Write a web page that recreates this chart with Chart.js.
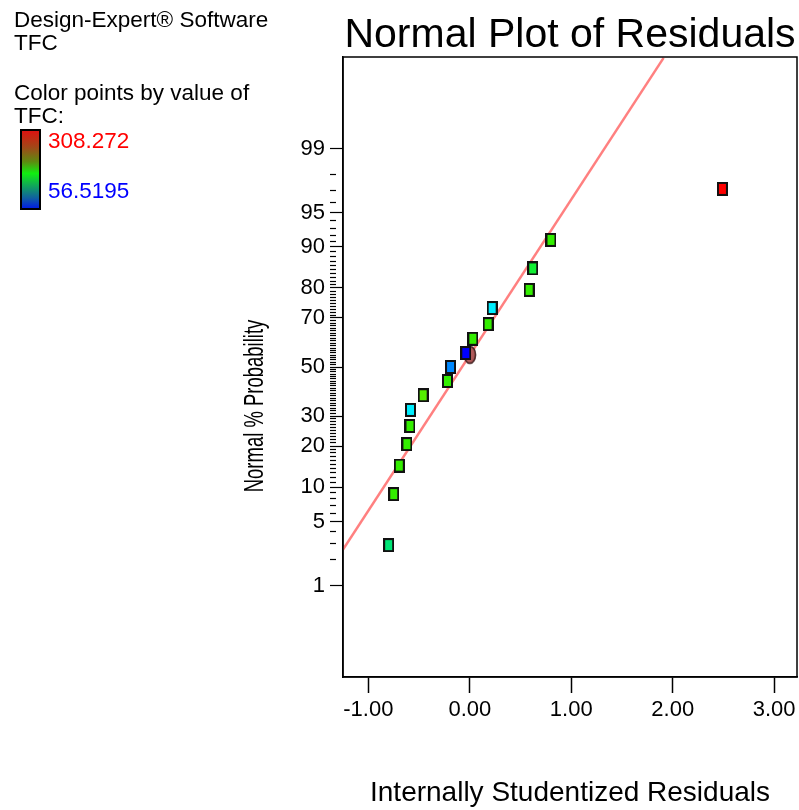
<!DOCTYPE html>
<html><head><meta charset="utf-8">
<script src="https://cdn.jsdelivr.net/npm/chart.js@4"></script>
<style>html,body{margin:0;padding:0;background:#fff;overflow:hidden}canvas{display:block}</style>
</head><body>
<canvas id="c" width="799" height="810" style="width:799px;height:810px"></canvas>
<script>
// ---- data ----
const residuals = [-0.80, -0.75, -0.695, -0.62, -0.59, -0.585, -0.46, -0.22, -0.19, -0.04, 0.03, 0.18, 0.22, 0.585, 0.62, 0.80, 2.49];
const normalPct = [2.9, 8.8, 14.7, 20.6, 26.5, 32.4, 38.2, 44.1, 50.0, 55.9, 61.8, 67.6, 73.5, 79.4, 85.3, 91.2, 97.1];
const pointColors = ['#00e676', '#33ee00', '#33ee00', '#33ee00', '#33ee00', '#00eeff', '#55ee00', '#33ee00', '#0088ff', '#0000ff', '#33ee00', '#33ee00', '#00eeff', '#33ee00', '#11ee33', '#33ee00', '#ff0000'];
const fitLineX = [-1.25, 1.91];
const fitLinePct = [2.6, 99.95];
const highlightX = [0.0];
const highlightPct = [55.2];
const xTickValues = [-1, 0, 1, 2, 3];
const yMajorPct = [1, 5, 10, 20, 30, 50, 70, 80, 90, 95, 99];
const yTickPct = []; for (let p = 1; p <= 99; p++) yTickPct.push(p);
const colorScaleMax = '308.272';
const colorScaleMin = '56.5195';
const FONT = '"Liberation Sans", Arial, sans-serif';

// inverse normal CDF (probability scale transform)
function probit(p) {
  const a=[-3.969683028665376e+01,2.209460984245205e+02,-2.759285104469687e+02,1.383577518672690e+02,-3.066479806614716e+01,2.506628277459239e+00];
  const b=[-5.447609879822406e+01,1.615858368580409e+02,-1.556989798598866e+02,6.680131188771972e+01,-1.328068155288572e+01];
  const c=[-7.784894002430293e-03,-3.223964580411365e-01,-2.400758277161838e+00,-2.549732539343734e+00,4.374664141464968e+00,2.938163982698783e+00];
  const d=[7.784695709041462e-03,3.224671290700398e-01,2.445134137142996e+00,3.754408661907416e+00];
  const plow = 0.02425, phigh = 1 - plow; let q, r;
  if (p < plow) { q = Math.sqrt(-2*Math.log(p)); return (((((c[0]*q+c[1])*q+c[2])*q+c[3])*q+c[4])*q+c[5])/((((d[0]*q+d[1])*q+d[2])*q+d[3])*q+1); }
  if (p > phigh) { q = Math.sqrt(-2*Math.log(1-p)); return -(((((c[0]*q+c[1])*q+c[2])*q+c[3])*q+c[4])*q+c[5])/((((d[0]*q+d[1])*q+d[2])*q+d[3])*q+1); }
  q = p - 0.5; r = q*q;
  return (((((a[0]*r+a[1])*r+a[2])*r+a[3])*r+a[4])*r+a[5])*q/(((((b[0]*r+b[1])*r+b[2])*r+b[3])*r+b[4])*r+1);
}

function rectMarker(color) {
  const cv = document.createElement('canvas'); cv.width = 11; cv.height = 14;
  const g = cv.getContext('2d');
  g.fillStyle = '#111'; g.fillRect(0, 0, 11, 14);
  g.fillStyle = color; g.fillRect(2, 2, 7, 10);
  return cv;
}
function ellipseMarker() {
  const cv = document.createElement('canvas'); cv.width = 14; cv.height = 20;
  const g = cv.getContext('2d');
  g.beginPath(); g.ellipse(7, 10, 5.6, 8.6, 0, 0, Math.PI*2);
  g.fillStyle = '#b05a5a'; g.fill();
  g.lineWidth = 1.5; g.strokeStyle = '#3a1818'; g.stroke();
  return cv;
}

const points = residuals.map((x, i) => ({x: x, y: probit(normalPct[i] / 100)}));
const highlight = highlightX.map((x, i) => ({x: x, y: probit(highlightPct[i] / 100)}));
const fitLine = fitLineX.map((x, i) => ({x: x, y: probit(fitLinePct[i] / 100)}));

const decor = {
  id: 'decor',
  afterDraw(chart) {
    const ctx = chart.ctx, ca = chart.chartArea;
    ctx.save();
    // frame
    ctx.strokeStyle = '#000'; ctx.lineWidth = 1.5;
    ctx.strokeRect(ca.left, ca.top, ca.right - ca.left, ca.bottom - ca.top);
    // title
    ctx.fillStyle = '#000'; ctx.textAlign = 'center'; ctx.textBaseline = 'alphabetic';
    ctx.font = '41px ' + FONT;
    ctx.fillText('Normal Plot of Residuals', (ca.left + ca.right) / 2, 47);
    // left info
    ctx.textAlign = 'left';
    ctx.font = '22.5px ' + FONT;
    ctx.fillText('Design-Expert\u00AE Software', 14, 27);
    ctx.fillText('TFC', 14, 50);
    ctx.fillText('Color points by value of', 14, 100);
    ctx.fillText('TFC:', 14, 123);
    // colour bar
    const gr = ctx.createLinearGradient(0, 130, 0, 209);
    gr.addColorStop(0, '#e01010');
    gr.addColorStop(0.22, '#a04818');
    gr.addColorStop(0.4, '#5e8a10');
    gr.addColorStop(0.55, '#10ee10');
    gr.addColorStop(0.72, '#10a060');
    gr.addColorStop(0.86, '#1060a0');
    gr.addColorStop(1, '#0018e8');
    ctx.fillStyle = gr; ctx.fillRect(21, 130, 19, 79);
    ctx.strokeStyle = '#000'; ctx.lineWidth = 2; ctx.strokeRect(21, 130, 19, 79);
    ctx.fillStyle = '#ff0000'; ctx.fillText(colorScaleMax, 48, 148);
    ctx.fillStyle = '#0000ff'; ctx.fillText(colorScaleMin, 48, 198);
    // y title (condensed)
    ctx.fillStyle = '#000';
    ctx.translate(263, 406); ctx.rotate(-Math.PI / 2); ctx.scale(0.66, 1);
    ctx.textAlign = 'center'; ctx.font = '28px ' + FONT;
    ctx.fillText('Normal % Probability', 0, 0);
    ctx.restore();
  }
};

new Chart(document.getElementById('c'), {
  type: 'scatter',
  data: {
    datasets: [
      {label: 'Residuals', data: points, pointStyle: pointColors.map(rectMarker), pointRadius: 6, pointHoverRadius: 6},
      {label: 'Highlight', data: highlight, pointStyle: ellipseMarker(), pointRadius: 6},
      {label: 'Fit', data: fitLine, showLine: true, borderColor: '#ff8080', borderWidth: 2.5, pointRadius: 0, clip: 0}
    ]
  },
  options: {
    responsive: false, animation: false, devicePixelRatio: 1,
    layout: {autoPadding: false, padding: {top: 57, right: 2, left: 0, bottom: 0}},
    plugins: {legend: {display: false}, tooltip: {enabled: false}},
    scales: {
      x: {
        type: 'linear', position: 'bottom', min: -1.25, max: 3.225,
        afterBuildTicks: s => { s.ticks = xTickValues.map(v => ({value: v})); },
        afterFit: s => { s.height = 133; s.paddingLeft = 0; s.paddingRight = 0; },
        grid: {drawOnChartArea: false, tickLength: 16, tickColor: '#000', tickWidth: 1.5},
        border: {display: true, color: '#000', width: 1.5},
        ticks: {color: '#000', font: {family: FONT, size: 22}, padding: 4, maxRotation: 0, autoSkip: false,
                callback: v => Number(v).toFixed(2)},
        title: {display: true, text: 'Internally Studentized Residuals', color: '#000',
                font: {family: FONT, size: 28}, padding: {top: 0, bottom: 0}}
      },
      y: {
        type: 'linear', position: 'left', min: -3.3, max: 3.3,
        afterBuildTicks: s => { s.ticks = yTickPct.map(p => ({value: probit(p / 100)})); },
        afterFit: s => { s.width = 343; s.paddingTop = 0; s.paddingBottom = 0; },
        grid: {drawOnChartArea: false, tickLength: 13, tickColor: '#000', tickWidth: 1.2,
               tickBorderDash: c => yMajorPct.includes(yTickPct[c.index]) ? [] : [6, 40]},
        border: {display: true, color: '#000', width: 1.5},
        ticks: {color: '#000', font: {family: FONT, size: 22}, padding: 5, autoSkip: false,
                callback: (v, i) => yMajorPct.includes(yTickPct[i]) ? String(yTickPct[i]) : ''}
      }
    }
  },
  plugins: [decor]
});
</script>
</body></html>
